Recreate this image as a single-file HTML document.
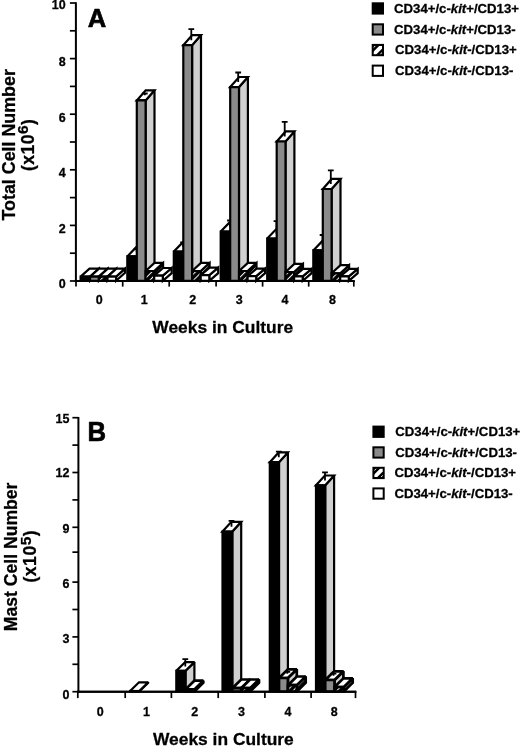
<!DOCTYPE html>
<html><head><meta charset="utf-8"><title>Figure</title>
<style>html,body{margin:0;padding:0;background:#fff}svg{display:block;filter:grayscale(1)}</style></head>
<body>
<svg width="520" height="746" viewBox="0 0 520 746" font-family="'Liberation Sans', sans-serif" font-weight="bold" fill="#000"><style>text{stroke:#000;stroke-width:0.28px;stroke-linejoin:round}</style>
<defs><pattern id="hatch" width="4.4" height="4.4" patternUnits="userSpaceOnUse" patternTransform="rotate(-45)"><rect width="4.4" height="4.4" fill="#000"/><rect y="0" width="4.4" height="1.0" fill="#fff"/></pattern></defs>
<rect width="520" height="746" fill="#fff"/>
<path d="M75.9 2.2V282" stroke="#000" stroke-width="2" fill="none"/>
<path d="M74.9 281H354.6" stroke="#000" stroke-width="2" fill="none"/>
<path d="M69.9 3H75.9" stroke="#000" stroke-width="1.7" fill="none"/>
<path d="M69.9 58.6H75.9" stroke="#000" stroke-width="1.7" fill="none"/>
<path d="M69.9 114.2H75.9" stroke="#000" stroke-width="1.7" fill="none"/>
<path d="M69.9 169.8H75.9" stroke="#000" stroke-width="1.7" fill="none"/>
<path d="M69.9 225.4H75.9" stroke="#000" stroke-width="1.7" fill="none"/>
<path d="M69.9 281H75.9" stroke="#000" stroke-width="1.7" fill="none"/>
<path d="M69.9 30.8H75.9" stroke="#000" stroke-width="1.7" fill="none"/>
<path d="M69.9 86.4H75.9" stroke="#000" stroke-width="1.7" fill="none"/>
<path d="M69.9 142H75.9" stroke="#000" stroke-width="1.7" fill="none"/>
<path d="M69.9 197.6H75.9" stroke="#000" stroke-width="1.7" fill="none"/>
<path d="M69.9 253.2H75.9" stroke="#000" stroke-width="1.7" fill="none"/>
<path d="M76 281V286.6" stroke="#000" stroke-width="1.7" fill="none"/>
<path d="M122.7 281V286.6" stroke="#000" stroke-width="1.7" fill="none"/>
<path d="M169.2 281V286.6" stroke="#000" stroke-width="1.7" fill="none"/>
<path d="M216.1 281V286.6" stroke="#000" stroke-width="1.7" fill="none"/>
<path d="M262.6 281V286.6" stroke="#000" stroke-width="1.7" fill="none"/>
<path d="M308.7 281V286.6" stroke="#000" stroke-width="1.7" fill="none"/>
<path d="M353.8 281V286.6" stroke="#000" stroke-width="1.7" fill="none"/>
<text x="65.6" y="9.4" text-anchor="end" font-size="12.5">10</text>
<text x="65.6" y="66.3" text-anchor="end" font-size="12.5">8</text>
<text x="65.6" y="122.1" text-anchor="end" font-size="12.5">6</text>
<text x="65.6" y="177.3" text-anchor="end" font-size="12.5">4</text>
<text x="65.6" y="232.7" text-anchor="end" font-size="12.5">2</text>
<text x="65.6" y="287.7" text-anchor="end" font-size="12.5">0</text>
<text x="99.35" y="304.1" text-anchor="middle" font-size="12.5">0</text>
<text x="144.15" y="304.1" text-anchor="middle" font-size="12.5">1</text>
<text x="192.65" y="304.1" text-anchor="middle" font-size="12.5">2</text>
<text x="239.35" y="304.1" text-anchor="middle" font-size="12.5">3</text>
<text x="285.05" y="304.1" text-anchor="middle" font-size="12.5">4</text>
<text x="332.45" y="304.1" text-anchor="middle" font-size="12.5">8</text>
<polygon points="90.1,280.8 99,272.8 99,268.6 90.1,276.6" fill="#d0d0d0" stroke="#000" stroke-width="2.2" stroke-linejoin="miter" stroke-miterlimit="2.5"/>
<polygon points="80.6,276.6 89.5,268.6 99,268.6 90.1,276.6" fill="#fff" stroke="#000" stroke-width="2.2" stroke-linejoin="miter" stroke-miterlimit="2.5"/>
<polygon points="80.6,280.8 80.6,276.6 90.1,276.6 90.1,280.8" fill="#000" stroke="#000" stroke-width="2.2" stroke-linejoin="miter" stroke-miterlimit="2.5"/>
<polygon points="98.9,280.8 107.8,272.8 107.8,268.6 98.9,276.6" fill="#d0d0d0" stroke="#000" stroke-width="2.2" stroke-linejoin="miter" stroke-miterlimit="2.5"/>
<polygon points="90.1,276.6 99,268.6 107.8,268.6 98.9,276.6" fill="#fff" stroke="#000" stroke-width="2.2" stroke-linejoin="miter" stroke-miterlimit="2.5"/>
<polygon points="90.1,280.8 90.1,276.6 98.9,276.6 98.9,280.8" fill="#8a8a8a" stroke="#000" stroke-width="2.2" stroke-linejoin="miter" stroke-miterlimit="2.5"/>
<polygon points="107.5,280.8 116.4,272.8 116.4,268.6 107.5,276.6" fill="url(#hatch)" stroke="#000" stroke-width="2.2" stroke-linejoin="miter" stroke-miterlimit="2.5"/>
<polygon points="98.9,276.6 107.8,268.6 116.4,268.6 107.5,276.6" fill="#fff" stroke="#000" stroke-width="2.2" stroke-linejoin="miter" stroke-miterlimit="2.5"/>
<polygon points="98.9,280.8 98.9,276.6 107.5,276.6 107.5,280.8" fill="url(#hatch)" stroke="#000" stroke-width="2.2" stroke-linejoin="miter" stroke-miterlimit="2.5"/>
<polygon points="116.1,280.8 125,272.8 125,268.6 116.1,276.6" fill="#fff" stroke="#000" stroke-width="2.2" stroke-linejoin="miter" stroke-miterlimit="2.5"/>
<polygon points="107.5,276.6 116.4,268.6 125,268.6 116.1,276.6" fill="#fff" stroke="#000" stroke-width="2.2" stroke-linejoin="miter" stroke-miterlimit="2.5"/>
<polygon points="107.5,280.8 107.5,276.6 116.1,276.6 116.1,280.8" fill="#fff" stroke="#000" stroke-width="2.2" stroke-linejoin="miter" stroke-miterlimit="2.5"/>
<polygon points="136.8,280.8 145.7,271.6 145.7,247.2 136.8,256.4" fill="#d0d0d0" stroke="#000" stroke-width="2.2" stroke-linejoin="miter" stroke-miterlimit="2.5"/>
<polygon points="127.3,256.4 136.2,247.2 145.7,247.2 136.8,256.4" fill="#fff" stroke="#000" stroke-width="2.2" stroke-linejoin="miter" stroke-miterlimit="2.5"/>
<path d="M136.6 251.8V249M133.7 249H139.5" stroke="#000" stroke-width="1.8" fill="none"/>
<polygon points="127.3,280.8 127.3,256.4 136.8,256.4 136.8,280.8" fill="#000" stroke="#000" stroke-width="2.2" stroke-linejoin="miter" stroke-miterlimit="2.5"/>
<polygon points="145.6,280.8 154.5,270.7 154.5,90.3 145.6,100.4" fill="#d0d0d0" stroke="#000" stroke-width="2.2" stroke-linejoin="miter" stroke-miterlimit="2.5"/>
<polygon points="136.8,100.4 145.7,90.3 154.5,90.3 145.6,100.4" fill="#fff" stroke="#000" stroke-width="2.2" stroke-linejoin="miter" stroke-miterlimit="2.5"/>
<path d="M144.8 95.35V93.5M141.9 93.5H147.7" stroke="#000" stroke-width="1.8" fill="none"/>
<polygon points="136.8,280.8 136.8,100.4 145.6,100.4 145.6,280.8" fill="#8a8a8a" stroke="#000" stroke-width="2.2" stroke-linejoin="miter" stroke-miterlimit="2.5"/>
<polygon points="154.2,280.8 163.1,272.7 163.1,262.9 154.2,271" fill="url(#hatch)" stroke="#000" stroke-width="2.2" stroke-linejoin="miter" stroke-miterlimit="2.5"/>
<polygon points="145.6,271 154.5,262.9 163.1,262.9 154.2,271" fill="#fff" stroke="#000" stroke-width="2.2" stroke-linejoin="miter" stroke-miterlimit="2.5"/>
<polygon points="145.6,280.8 145.6,271 154.2,271 154.2,280.8" fill="url(#hatch)" stroke="#000" stroke-width="2.2" stroke-linejoin="miter" stroke-miterlimit="2.5"/>
<polygon points="162.8,280.8 171.7,273.2 171.7,268 162.8,275.6" fill="#fff" stroke="#000" stroke-width="2.2" stroke-linejoin="miter" stroke-miterlimit="2.5"/>
<polygon points="154.2,275.6 163.1,268 171.7,268 162.8,275.6" fill="#fff" stroke="#000" stroke-width="2.2" stroke-linejoin="miter" stroke-miterlimit="2.5"/>
<polygon points="154.2,280.8 154.2,275.6 162.8,275.6 162.8,280.8" fill="#fff" stroke="#000" stroke-width="2.2" stroke-linejoin="miter" stroke-miterlimit="2.5"/>
<polygon points="183.3,280.8 192.2,271.6 192.2,242.4 183.3,251.6" fill="#d0d0d0" stroke="#000" stroke-width="2.2" stroke-linejoin="miter" stroke-miterlimit="2.5"/>
<polygon points="173.8,251.6 182.7,242.4 192.2,242.4 183.3,251.6" fill="#fff" stroke="#000" stroke-width="2.2" stroke-linejoin="miter" stroke-miterlimit="2.5"/>
<path d="M183.1 247V242.5M180.2 242.5H186" stroke="#000" stroke-width="1.8" fill="none"/>
<polygon points="173.8,280.8 173.8,251.6 183.3,251.6 183.3,280.8" fill="#000" stroke="#000" stroke-width="2.2" stroke-linejoin="miter" stroke-miterlimit="2.5"/>
<polygon points="192.1,280.8 201,270.7 201,35.1 192.1,45.2" fill="#d0d0d0" stroke="#000" stroke-width="2.2" stroke-linejoin="miter" stroke-miterlimit="2.5"/>
<polygon points="183.3,45.2 192.2,35.1 201,35.1 192.1,45.2" fill="#fff" stroke="#000" stroke-width="2.2" stroke-linejoin="miter" stroke-miterlimit="2.5"/>
<path d="M191.3 40.15V29.2M188.4 29.2H194.2" stroke="#000" stroke-width="1.8" fill="none"/>
<polygon points="183.3,280.8 183.3,45.2 192.1,45.2 192.1,280.8" fill="#8a8a8a" stroke="#000" stroke-width="2.2" stroke-linejoin="miter" stroke-miterlimit="2.5"/>
<polygon points="200.7,280.8 209.6,272.7 209.6,262.9 200.7,271" fill="url(#hatch)" stroke="#000" stroke-width="2.2" stroke-linejoin="miter" stroke-miterlimit="2.5"/>
<polygon points="192.1,271 201,262.9 209.6,262.9 200.7,271" fill="#fff" stroke="#000" stroke-width="2.2" stroke-linejoin="miter" stroke-miterlimit="2.5"/>
<polygon points="192.1,280.8 192.1,271 200.7,271 200.7,280.8" fill="url(#hatch)" stroke="#000" stroke-width="2.2" stroke-linejoin="miter" stroke-miterlimit="2.5"/>
<polygon points="209.3,280.8 218.2,273.2 218.2,267.6 209.3,275.2" fill="#fff" stroke="#000" stroke-width="2.2" stroke-linejoin="miter" stroke-miterlimit="2.5"/>
<polygon points="200.7,275.2 209.6,267.6 218.2,267.6 209.3,275.2" fill="#fff" stroke="#000" stroke-width="2.2" stroke-linejoin="miter" stroke-miterlimit="2.5"/>
<polygon points="200.7,280.8 200.7,275.2 209.3,275.2 209.3,280.8" fill="#fff" stroke="#000" stroke-width="2.2" stroke-linejoin="miter" stroke-miterlimit="2.5"/>
<polygon points="230.2,280.8 239.1,271.6 239.1,222.4 230.2,231.6" fill="#d0d0d0" stroke="#000" stroke-width="2.2" stroke-linejoin="miter" stroke-miterlimit="2.5"/>
<polygon points="220.7,231.6 229.6,222.4 239.1,222.4 230.2,231.6" fill="#fff" stroke="#000" stroke-width="2.2" stroke-linejoin="miter" stroke-miterlimit="2.5"/>
<path d="M230 227V220.5M227.1 220.5H232.9" stroke="#000" stroke-width="1.8" fill="none"/>
<polygon points="220.7,280.8 220.7,231.6 230.2,231.6 230.2,280.8" fill="#000" stroke="#000" stroke-width="2.2" stroke-linejoin="miter" stroke-miterlimit="2.5"/>
<polygon points="239,280.8 247.9,270.7 247.9,77 239,87.1" fill="#d0d0d0" stroke="#000" stroke-width="2.2" stroke-linejoin="miter" stroke-miterlimit="2.5"/>
<polygon points="230.2,87.1 239.1,77 247.9,77 239,87.1" fill="#fff" stroke="#000" stroke-width="2.2" stroke-linejoin="miter" stroke-miterlimit="2.5"/>
<path d="M238.2 82.05V72.5M235.3 72.5H241.1" stroke="#000" stroke-width="1.8" fill="none"/>
<polygon points="230.2,280.8 230.2,87.1 239,87.1 239,280.8" fill="#8a8a8a" stroke="#000" stroke-width="2.2" stroke-linejoin="miter" stroke-miterlimit="2.5"/>
<polygon points="247.6,280.8 256.5,272.7 256.5,262.9 247.6,271" fill="url(#hatch)" stroke="#000" stroke-width="2.2" stroke-linejoin="miter" stroke-miterlimit="2.5"/>
<polygon points="239,271 247.9,262.9 256.5,262.9 247.6,271" fill="#fff" stroke="#000" stroke-width="2.2" stroke-linejoin="miter" stroke-miterlimit="2.5"/>
<polygon points="239,280.8 239,271 247.6,271 247.6,280.8" fill="url(#hatch)" stroke="#000" stroke-width="2.2" stroke-linejoin="miter" stroke-miterlimit="2.5"/>
<polygon points="256.2,280.8 265.1,273.2 265.1,268.6 256.2,276.2" fill="#fff" stroke="#000" stroke-width="2.2" stroke-linejoin="miter" stroke-miterlimit="2.5"/>
<polygon points="247.6,276.2 256.5,268.6 265.1,268.6 256.2,276.2" fill="#fff" stroke="#000" stroke-width="2.2" stroke-linejoin="miter" stroke-miterlimit="2.5"/>
<polygon points="247.6,280.8 247.6,276.2 256.2,276.2 256.2,280.8" fill="#fff" stroke="#000" stroke-width="2.2" stroke-linejoin="miter" stroke-miterlimit="2.5"/>
<polygon points="276.7,280.8 285.6,271.6 285.6,229.3 276.7,238.5" fill="#d0d0d0" stroke="#000" stroke-width="2.2" stroke-linejoin="miter" stroke-miterlimit="2.5"/>
<polygon points="267.2,238.5 276.1,229.3 285.6,229.3 276.7,238.5" fill="#fff" stroke="#000" stroke-width="2.2" stroke-linejoin="miter" stroke-miterlimit="2.5"/>
<path d="M276.5 233.9V221.2M273.6 221.2H279.4" stroke="#000" stroke-width="1.8" fill="none"/>
<polygon points="267.2,280.8 267.2,238.5 276.7,238.5 276.7,280.8" fill="#000" stroke="#000" stroke-width="2.2" stroke-linejoin="miter" stroke-miterlimit="2.5"/>
<polygon points="285.5,280.8 294.4,270.7 294.4,131.4 285.5,141.5" fill="#d0d0d0" stroke="#000" stroke-width="2.2" stroke-linejoin="miter" stroke-miterlimit="2.5"/>
<polygon points="276.7,141.5 285.6,131.4 294.4,131.4 285.5,141.5" fill="#fff" stroke="#000" stroke-width="2.2" stroke-linejoin="miter" stroke-miterlimit="2.5"/>
<path d="M284.7 136.45V121.8M281.8 121.8H287.6" stroke="#000" stroke-width="1.8" fill="none"/>
<polygon points="276.7,280.8 276.7,141.5 285.5,141.5 285.5,280.8" fill="#8a8a8a" stroke="#000" stroke-width="2.2" stroke-linejoin="miter" stroke-miterlimit="2.5"/>
<polygon points="294.1,280.8 303,272.7 303,263.9 294.1,272" fill="url(#hatch)" stroke="#000" stroke-width="2.2" stroke-linejoin="miter" stroke-miterlimit="2.5"/>
<polygon points="285.5,272 294.4,263.9 303,263.9 294.1,272" fill="#fff" stroke="#000" stroke-width="2.2" stroke-linejoin="miter" stroke-miterlimit="2.5"/>
<polygon points="285.5,280.8 285.5,272 294.1,272 294.1,280.8" fill="url(#hatch)" stroke="#000" stroke-width="2.2" stroke-linejoin="miter" stroke-miterlimit="2.5"/>
<polygon points="302.7,280.8 311.6,273.2 311.6,268.8 302.7,276.4" fill="#fff" stroke="#000" stroke-width="2.2" stroke-linejoin="miter" stroke-miterlimit="2.5"/>
<polygon points="294.1,276.4 303,268.8 311.6,268.8 302.7,276.4" fill="#fff" stroke="#000" stroke-width="2.2" stroke-linejoin="miter" stroke-miterlimit="2.5"/>
<polygon points="294.1,280.8 294.1,276.4 302.7,276.4 302.7,280.8" fill="#fff" stroke="#000" stroke-width="2.2" stroke-linejoin="miter" stroke-miterlimit="2.5"/>
<polygon points="322.8,280.8 331.7,271.6 331.7,241.2 322.8,250.4" fill="#d0d0d0" stroke="#000" stroke-width="2.2" stroke-linejoin="miter" stroke-miterlimit="2.5"/>
<polygon points="313.3,250.4 322.2,241.2 331.7,241.2 322.8,250.4" fill="#fff" stroke="#000" stroke-width="2.2" stroke-linejoin="miter" stroke-miterlimit="2.5"/>
<path d="M322.6 245.8V235M319.7 235H325.5" stroke="#000" stroke-width="1.8" fill="none"/>
<polygon points="313.3,280.8 313.3,250.4 322.8,250.4 322.8,280.8" fill="#000" stroke="#000" stroke-width="2.2" stroke-linejoin="miter" stroke-miterlimit="2.5"/>
<polygon points="331.6,280.8 340.5,270.7 340.5,178.9 331.6,189" fill="#d0d0d0" stroke="#000" stroke-width="2.2" stroke-linejoin="miter" stroke-miterlimit="2.5"/>
<polygon points="322.8,189 331.7,178.9 340.5,178.9 331.6,189" fill="#fff" stroke="#000" stroke-width="2.2" stroke-linejoin="miter" stroke-miterlimit="2.5"/>
<path d="M330.8 183.95V170.4M327.9 170.4H333.7" stroke="#000" stroke-width="1.8" fill="none"/>
<polygon points="322.8,280.8 322.8,189 331.6,189 331.6,280.8" fill="#8a8a8a" stroke="#000" stroke-width="2.2" stroke-linejoin="miter" stroke-miterlimit="2.5"/>
<polygon points="340.2,280.8 349.1,272.7 349.1,265.2 340.2,273.3" fill="url(#hatch)" stroke="#000" stroke-width="2.2" stroke-linejoin="miter" stroke-miterlimit="2.5"/>
<polygon points="331.6,273.3 340.5,265.2 349.1,265.2 340.2,273.3" fill="#fff" stroke="#000" stroke-width="2.2" stroke-linejoin="miter" stroke-miterlimit="2.5"/>
<polygon points="331.6,280.8 331.6,273.3 340.2,273.3 340.2,280.8" fill="url(#hatch)" stroke="#000" stroke-width="2.2" stroke-linejoin="miter" stroke-miterlimit="2.5"/>
<polygon points="348.8,280.8 357.7,273.2 357.7,268.8 348.8,276.4" fill="#fff" stroke="#000" stroke-width="2.2" stroke-linejoin="miter" stroke-miterlimit="2.5"/>
<polygon points="340.2,276.4 349.1,268.8 357.7,268.8 348.8,276.4" fill="#fff" stroke="#000" stroke-width="2.2" stroke-linejoin="miter" stroke-miterlimit="2.5"/>
<polygon points="340.2,280.8 340.2,276.4 348.8,276.4 348.8,280.8" fill="#fff" stroke="#000" stroke-width="2.2" stroke-linejoin="miter" stroke-miterlimit="2.5"/>
<path d="M74.9 281H354.6" stroke="#000" stroke-width="2" fill="none"/>
<text transform="translate(87.8 26.8) scale(0.97 1)" font-size="26.4" style="stroke-width:0.7px">A</text>
<text x="222.7" y="333" text-anchor="middle" font-size="17.4">Weeks in Culture</text>
<text transform="translate(14.7 144.8) rotate(-90)" text-anchor="middle" font-size="17.85">Total Cell Number</text>
<text transform="translate(33.7 144.9) rotate(-90)" text-anchor="middle" font-size="17.6" letter-spacing="0.45">(x10<tspan dy="-5.7" font-size="15.5">6</tspan><tspan dy="5.7">)</tspan></text>
<rect x="372.7" y="3.3" width="10.3" height="10.3" fill="#000" stroke="#000" stroke-width="2"/>
<text x="394" y="12.8" font-size="13.2">CD34+/c-<tspan font-style="italic">kit</tspan>+/CD13+</text>
<rect x="372.7" y="24.3" width="10.3" height="10.3" fill="#8a8a8a" stroke="#000" stroke-width="2"/>
<text x="394" y="33.8" font-size="13.2">CD34+/c-<tspan font-style="italic">kit</tspan>+/CD13-</text>
<rect x="372.7" y="44.9" width="10.3" height="10.3" fill="#000" stroke="#000" stroke-width="2"/>
<clipPath id="lc127"><rect x="373.7" y="45.9" width="8.3" height="8.3"/></clipPath>
<g clip-path="url(#lc127)" stroke="#fff" fill="none">
<path d="M372.7 55.2L383 44.9" stroke-width="3.9"/>
<path d="M372.7 48.5L376.3 44.9" stroke-width="1"/>
<path d="M379.4 55.2L383 51.6" stroke-width="1"/>
</g>
<text x="395" y="54.4" font-size="13.2">CD34+/c-<tspan font-style="italic">kit</tspan>-/CD13+</text>
<rect x="372.7" y="65.6" width="10.3" height="10.3" fill="#fff" stroke="#000" stroke-width="2"/>
<text x="395" y="75.1" font-size="13.2">CD34+/c-<tspan font-style="italic">kit</tspan>-/CD13-</text>
<path d="M78.4 416.9V692.7" stroke="#000" stroke-width="2" fill="none"/>
<path d="M77.4 691.7H356.3" stroke="#000" stroke-width="2" fill="none"/>
<path d="M72.4 417.7H78.4" stroke="#000" stroke-width="1.7" fill="none"/>
<path d="M72.4 472.5H78.4" stroke="#000" stroke-width="1.7" fill="none"/>
<path d="M72.4 527.3H78.4" stroke="#000" stroke-width="1.7" fill="none"/>
<path d="M72.4 582.1H78.4" stroke="#000" stroke-width="1.7" fill="none"/>
<path d="M72.4 636.9H78.4" stroke="#000" stroke-width="1.7" fill="none"/>
<path d="M72.4 691.7H78.4" stroke="#000" stroke-width="1.7" fill="none"/>
<path d="M72.4 445.1H78.4" stroke="#000" stroke-width="1.7" fill="none"/>
<path d="M72.4 499.9H78.4" stroke="#000" stroke-width="1.7" fill="none"/>
<path d="M72.4 552.14H78.4" stroke="#000" stroke-width="1.7" fill="none"/>
<path d="M72.4 609.5H78.4" stroke="#000" stroke-width="1.7" fill="none"/>
<path d="M72.4 664.3H78.4" stroke="#000" stroke-width="1.7" fill="none"/>
<path d="M77.8 691.7V698.1" stroke="#000" stroke-width="1.7" fill="none"/>
<path d="M125.2 691.7V698.1" stroke="#000" stroke-width="1.7" fill="none"/>
<path d="M171.4 691.7V698.1" stroke="#000" stroke-width="1.7" fill="none"/>
<path d="M218.2 691.7V698.1" stroke="#000" stroke-width="1.7" fill="none"/>
<path d="M264.9 691.7V698.1" stroke="#000" stroke-width="1.7" fill="none"/>
<path d="M311.1 691.7V698.1" stroke="#000" stroke-width="1.7" fill="none"/>
<path d="M355.5 691.7V698.1" stroke="#000" stroke-width="1.7" fill="none"/>
<text x="69.4" y="423" text-anchor="end" font-size="12.5">15</text>
<text x="69.4" y="477.3" text-anchor="end" font-size="12.5">12</text>
<text x="69.4" y="533.4" text-anchor="end" font-size="12.5">9</text>
<text x="69.4" y="587.5" text-anchor="end" font-size="12.5">6</text>
<text x="69.4" y="642.7" text-anchor="end" font-size="12.5">3</text>
<text x="69.4" y="699.2" text-anchor="end" font-size="12.5">0</text>
<text x="100.3" y="716" text-anchor="middle" font-size="12.5">0</text>
<text x="146.5" y="716" text-anchor="middle" font-size="12.5">1</text>
<text x="194.8" y="716" text-anchor="middle" font-size="12.5">2</text>
<text x="241.55" y="716" text-anchor="middle" font-size="12.5">3</text>
<text x="288" y="716" text-anchor="middle" font-size="12.5">4</text>
<text x="334.3" y="716" text-anchor="middle" font-size="12.5">8</text>
<polygon points="139.3,691.5 148.2,682.8 148.2,682.3 139.3,691" fill="#d0d0d0" stroke="#000" stroke-width="2.2" stroke-linejoin="miter" stroke-miterlimit="2.5"/>
<polygon points="130.1,691 139,682.3 148.2,682.3 139.3,691" fill="#fff" stroke="#000" stroke-width="2.2" stroke-linejoin="miter" stroke-miterlimit="2.5"/>
<polygon points="130.1,691.5 130.1,691 139.3,691 139.3,691.5" fill="#000" stroke="#000" stroke-width="2.2" stroke-linejoin="miter" stroke-miterlimit="2.5"/>
<polygon points="185.5,691.5 194.4,682.8 194.4,662.1 185.5,670.8" fill="#d0d0d0" stroke="#000" stroke-width="2.2" stroke-linejoin="miter" stroke-miterlimit="2.5"/>
<polygon points="176.3,670.8 185.2,662.1 194.4,662.1 185.5,670.8" fill="#fff" stroke="#000" stroke-width="2.2" stroke-linejoin="miter" stroke-miterlimit="2.5"/>
<path d="M185.3 666.45V659.1M182.4 659.1H188.2" stroke="#000" stroke-width="1.8" fill="none"/>
<polygon points="176.3,691.5 176.3,670.8 185.5,670.8 185.5,691.5" fill="#000" stroke="#000" stroke-width="2.2" stroke-linejoin="miter" stroke-miterlimit="2.5"/>
<polygon points="194.4,691.5 203.3,682.8 203.3,680.7 194.4,689.4" fill="#d0d0d0" stroke="#000" stroke-width="2.7" stroke-linejoin="miter" stroke-miterlimit="2.5"/>
<polygon points="185.5,689.4 194.4,680.7 203.3,680.7 194.4,689.4" fill="#fff" stroke="#000" stroke-width="2.7" stroke-linejoin="miter" stroke-miterlimit="2.5"/>
<polygon points="185.5,691.5 185.5,689.4 194.4,689.4 194.4,691.5" fill="#8a8a8a" stroke="#000" stroke-width="2.7" stroke-linejoin="miter" stroke-miterlimit="2.5"/>
<polygon points="232.3,691.5 241.2,681.7 241.2,521.8 232.3,531.6" fill="#d0d0d0" stroke="#000" stroke-width="2.2" stroke-linejoin="miter" stroke-miterlimit="2.5"/>
<polygon points="222.5,531.6 231.4,521.8 241.2,521.8 232.3,531.6" fill="#fff" stroke="#000" stroke-width="2.2" stroke-linejoin="miter" stroke-miterlimit="2.5"/>
<path d="M231.5 526.7V520.8M228.6 520.8H234.4" stroke="#000" stroke-width="1.8" fill="none"/>
<polygon points="222.5,691.5 222.5,531.6 232.3,531.6 232.3,691.5" fill="#000" stroke="#000" stroke-width="2.2" stroke-linejoin="miter" stroke-miterlimit="2.5"/>
<polygon points="241.2,691.5 250.1,682.8 250.1,679.5 241.2,688.2" fill="#d0d0d0" stroke="#000" stroke-width="2.7" stroke-linejoin="miter" stroke-miterlimit="2.5"/>
<polygon points="232.3,688.2 241.2,679.5 250.1,679.5 241.2,688.2" fill="#fff" stroke="#000" stroke-width="2.7" stroke-linejoin="miter" stroke-miterlimit="2.5"/>
<polygon points="232.3,691.5 232.3,688.2 241.2,688.2 241.2,691.5" fill="#8a8a8a" stroke="#000" stroke-width="2.7" stroke-linejoin="miter" stroke-miterlimit="2.5"/>
<polygon points="250.1,691.5 259,682.8 259,679.5 250.1,688.2" fill="url(#hatch)" stroke="#000" stroke-width="2.7" stroke-linejoin="miter" stroke-miterlimit="2.5"/>
<polygon points="241.2,688.2 250.1,679.5 259,679.5 250.1,688.2" fill="#fff" stroke="#000" stroke-width="2.7" stroke-linejoin="miter" stroke-miterlimit="2.5"/>
<polygon points="241.2,691.5 241.2,688.2 250.1,688.2 250.1,691.5" fill="url(#hatch)" stroke="#000" stroke-width="2.7" stroke-linejoin="miter" stroke-miterlimit="2.5"/>
<polygon points="279,691.5 287.9,681.7 287.9,452.4 279,462.2" fill="#d0d0d0" stroke="#000" stroke-width="2.2" stroke-linejoin="miter" stroke-miterlimit="2.5"/>
<polygon points="269.8,462.2 278.7,452.4 287.9,452.4 279,462.2" fill="#fff" stroke="#000" stroke-width="2.2" stroke-linejoin="miter" stroke-miterlimit="2.5"/>
<path d="M278.8 457.3V451.6M275.9 451.6H281.7" stroke="#000" stroke-width="1.8" fill="none"/>
<polygon points="269.8,691.5 269.8,462.2 279,462.2 279,691.5" fill="#000" stroke="#000" stroke-width="2.2" stroke-linejoin="miter" stroke-miterlimit="2.5"/>
<polygon points="287.9,691.5 296.8,682.8 296.8,669.3 287.9,678" fill="#d0d0d0" stroke="#000" stroke-width="2.7" stroke-linejoin="miter" stroke-miterlimit="2.5"/>
<polygon points="279,678 287.9,669.3 296.8,669.3 287.9,678" fill="#fff" stroke="#000" stroke-width="2.7" stroke-linejoin="miter" stroke-miterlimit="2.5"/>
<path d="M287.3 673.65V671.8M284.4 671.8H290.2" stroke="#000" stroke-width="1.8" fill="none"/>
<polygon points="279,691.5 279,678 287.9,678 287.9,691.5" fill="#8a8a8a" stroke="#000" stroke-width="2.7" stroke-linejoin="miter" stroke-miterlimit="2.5"/>
<polygon points="296.8,691.5 305.7,682.8 305.7,676.5 296.8,685.2" fill="url(#hatch)" stroke="#000" stroke-width="2.7" stroke-linejoin="miter" stroke-miterlimit="2.5"/>
<polygon points="287.9,685.2 296.8,676.5 305.7,676.5 296.8,685.2" fill="#fff" stroke="#000" stroke-width="2.7" stroke-linejoin="miter" stroke-miterlimit="2.5"/>
<polygon points="287.9,691.5 287.9,685.2 296.8,685.2 296.8,691.5" fill="url(#hatch)" stroke="#000" stroke-width="2.7" stroke-linejoin="miter" stroke-miterlimit="2.5"/>
<polygon points="325.2,691.5 334.1,681.7 334.1,475.5 325.2,485.3" fill="#d0d0d0" stroke="#000" stroke-width="2.2" stroke-linejoin="miter" stroke-miterlimit="2.5"/>
<polygon points="316,485.3 324.9,475.5 334.1,475.5 325.2,485.3" fill="#fff" stroke="#000" stroke-width="2.2" stroke-linejoin="miter" stroke-miterlimit="2.5"/>
<path d="M325 480.4V472.4M322.1 472.4H327.9" stroke="#000" stroke-width="1.8" fill="none"/>
<polygon points="316,691.5 316,485.3 325.2,485.3 325.2,691.5" fill="#000" stroke="#000" stroke-width="2.2" stroke-linejoin="miter" stroke-miterlimit="2.5"/>
<polygon points="334.5,691.5 343.4,682.8 343.4,671.3 334.5,680" fill="#d0d0d0" stroke="#000" stroke-width="2.7" stroke-linejoin="miter" stroke-miterlimit="2.5"/>
<polygon points="325.2,680 334.1,671.3 343.4,671.3 334.5,680" fill="#fff" stroke="#000" stroke-width="2.7" stroke-linejoin="miter" stroke-miterlimit="2.5"/>
<path d="M333.5 675.65V673.6M330.6 673.6H336.4" stroke="#000" stroke-width="1.8" fill="none"/>
<polygon points="325.2,691.5 325.2,680 334.5,680 334.5,691.5" fill="#8a8a8a" stroke="#000" stroke-width="2.7" stroke-linejoin="miter" stroke-miterlimit="2.5"/>
<polygon points="343.8,691.5 352.7,682.8 352.7,678.3 343.8,687" fill="url(#hatch)" stroke="#000" stroke-width="2.7" stroke-linejoin="miter" stroke-miterlimit="2.5"/>
<polygon points="334.5,687 343.4,678.3 352.7,678.3 343.8,687" fill="#fff" stroke="#000" stroke-width="2.7" stroke-linejoin="miter" stroke-miterlimit="2.5"/>
<polygon points="334.5,691.5 334.5,687 343.8,687 343.8,691.5" fill="url(#hatch)" stroke="#000" stroke-width="2.7" stroke-linejoin="miter" stroke-miterlimit="2.5"/>
<path d="M77.4 691.7H356.3" stroke="#000" stroke-width="2" fill="none"/>
<text transform="translate(87.5 441.1) scale(0.955 1)" font-size="26.9" style="stroke-width:0.7px">B</text>
<text x="223.4" y="744.7" text-anchor="middle" font-size="17.4">Weeks in Culture</text>
<text transform="translate(17.2 556.9) rotate(-90)" text-anchor="middle" font-size="17.6">Mast Cell Number</text>
<text transform="translate(36.1 556.2) rotate(-90)" text-anchor="middle" font-size="17.6" letter-spacing="0.5">(x10<tspan dy="-5.5" font-size="15.5">5</tspan><tspan dy="5.5">)</tspan></text>
<rect x="373.4" y="426.6" width="10.3" height="10.3" fill="#000" stroke="#000" stroke-width="2"/>
<text x="395.3" y="436.1" font-size="13.2">CD34+/c-<tspan font-style="italic">kit</tspan>+/CD13+</text>
<rect x="373.4" y="447.3" width="10.3" height="10.3" fill="#8a8a8a" stroke="#000" stroke-width="2"/>
<text x="395.3" y="456.8" font-size="13.2">CD34+/c-<tspan font-style="italic">kit</tspan>+/CD13-</text>
<rect x="373.4" y="467.8" width="10.3" height="10.3" fill="#000" stroke="#000" stroke-width="2"/>
<clipPath id="lc220"><rect x="374.4" y="468.8" width="8.3" height="8.3"/></clipPath>
<g clip-path="url(#lc220)" stroke="#fff" fill="none">
<path d="M373.4 478.1L383.7 467.8" stroke-width="3.9"/>
<path d="M373.4 471.4L377 467.8" stroke-width="1"/>
<path d="M380.1 478.1L383.7 474.5" stroke-width="1"/>
</g>
<text x="394.4" y="477.3" font-size="13.2">CD34+/c-<tspan font-style="italic">kit</tspan>-/CD13+</text>
<rect x="373.4" y="488.4" width="10.3" height="10.3" fill="#fff" stroke="#000" stroke-width="2"/>
<text x="394.4" y="497.9" font-size="13.2">CD34+/c-<tspan font-style="italic">kit</tspan>-/CD13-</text>
</svg>
</body></html>
